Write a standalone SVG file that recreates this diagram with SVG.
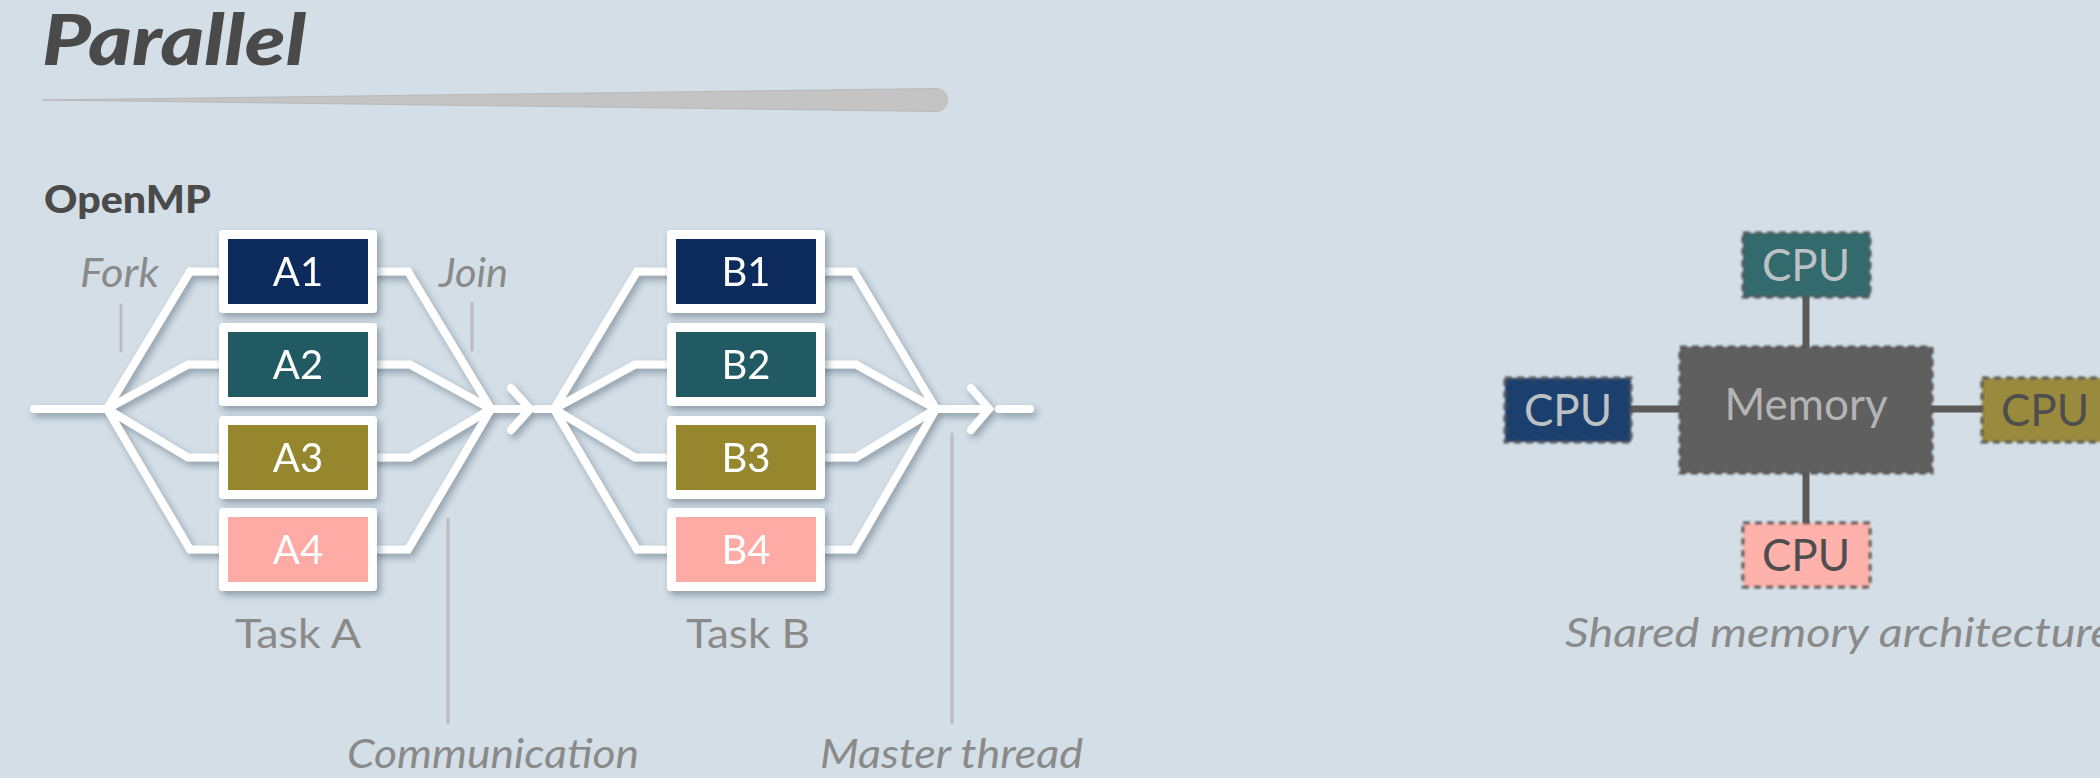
<svg xmlns="http://www.w3.org/2000/svg" width="2100" height="778" viewBox="0 0 2100 778">
  <defs>
    <filter id="shadow" x="-20%" y="-20%" width="140%" height="150%">
      <feDropShadow dx="3" dy="4" stdDeviation="3.5" flood-color="#2a3848" flood-opacity="0.4"/>
    </filter>
    <filter id="soft" x="-10%" y="-10%" width="120%" height="120%">
      <feGaussianBlur stdDeviation="0.9"/>
    </filter>
    <style>
      .bg { fill: #d3dee6; }
      .title { font-family: Lato, "Liberation Sans", sans-serif; font-weight: 900; font-style: italic; fill: #4a4a4a; }
      .sub { font-family: Lato, "Liberation Sans", sans-serif; font-weight: 900; font-size: 38px; fill: #4a4a4a; }
      .note { font-family: Lato, "Liberation Sans", sans-serif; font-style: italic; font-size: 40px; fill: #8a8a8a; }
      .cap { font-family: Lato, "Liberation Sans", sans-serif; font-size: 40px; fill: #8a8a8a; text-anchor: middle; }
      .tick { stroke: #bcbcbc; stroke-width: 3; stroke-linecap: round; fill: none; }
      .flow { stroke: #ffffff; stroke-width: 8; stroke-linecap: round; stroke-linejoin: miter; fill: none; }
      .frame { fill: #ffffff; }
      .lbl { font-family: Lato, "Liberation Sans", sans-serif; font-size: 40px; fill: #ffffff; text-anchor: middle; }
      .c1 { fill: #0c2c5c; }
      .c2 { fill: #225a63; }
      .c3 { fill: #96862f; }
      .c4 { fill: #ffaba5; }
      .bus { stroke: #5a5a5a; stroke-width: 7; fill: none; }
      .unit { stroke: #555555; stroke-width: 3; stroke-dasharray: 7 5; }
      .ulbl { font-family: Lato, "Liberation Sans", sans-serif; font-size: 44px; text-anchor: middle; }
    </style>
  </defs>

  <rect class="bg" x="0" y="0" width="2100" height="778"/>

  <!-- heading -->
  <g id="heading">
    <text class="title" x="42" y="65" font-size="70" textLength="264" lengthAdjust="spacingAndGlyphs">Parallel</text>
    <path d="M42 100 L936 88.5 A11.5 11.5 0 0 1 936 111.5 Z" fill="#c4c4c4" stroke="#b4b4b4" stroke-width="0.8"/>
    <text class="sub" x="44" y="213" textLength="167" lengthAdjust="spacingAndGlyphs">OpenMP</text>
  </g>

  <!-- thread flow lines -->
  <g id="connectors" filter="url(#shadow)">
    <!-- task A fork / join -->
    <path class="flow" d="M34 409 L107 409"/>
    <path class="flow" d="M107 409 L190 271.5 L225 271.5 M107 409 L188 364.5 L225 364.5 M107 409 L188 457.5 L225 457.5 M107 409 L190 549.5 L225 549.5"/>
    <path class="flow" d="M372 271.5 L408 271.5 L491 409 M372 364.5 L410 364.5 L491 409 M372 457.5 L410 457.5 L491 409 M372 549.5 L408 549.5 L491 409"/>
    <path class="flow" d="M491 409 L529 409 M511 388 L530 409 L511 430"/>
    <!-- task B fork / join -->
    <path class="flow" d="M536 409 L554 409"/>
    <path class="flow" d="M554 409 L637 271.5 L672 271.5 M554 409 L635 364.5 L672 364.5 M554 409 L635 457.5 L672 457.5 M554 409 L637 549.5 L672 549.5"/>
    <path class="flow" d="M819 271.5 L854 271.5 L936 409 M819 364.5 L856 364.5 L936 409 M819 457.5 L856 457.5 L936 409 M819 549.5 L854 549.5 L936 409"/>
    <path class="flow" d="M936 409 L988 409 M971 388 L989 409 L971 430"/>
    <path class="flow" d="M999 409 L1030 409"/>
  </g>

  <!-- task A -->
  <g id="A1" filter="url(#shadow)">
    <rect class="frame" x="219" y="230" width="158" height="83" rx="4"/>
    <rect class="c1" x="228" y="239" width="140" height="65"/>
    <text class="lbl" x="298" y="286">A1</text>
  </g>
  <g id="A2" filter="url(#shadow)">
    <rect class="frame" x="219" y="323" width="158" height="83" rx="4"/>
    <rect class="c2" x="228" y="332" width="140" height="65"/>
    <text class="lbl" x="298" y="379">A2</text>
  </g>
  <g id="A3" filter="url(#shadow)">
    <rect class="frame" x="219" y="416" width="158" height="83" rx="4"/>
    <rect class="c3" x="228" y="425" width="140" height="65"/>
    <text class="lbl" x="298" y="472">A3</text>
  </g>
  <g id="A4" filter="url(#shadow)">
    <rect class="frame" x="219" y="508" width="158" height="83" rx="4"/>
    <rect class="c4" x="228" y="517" width="140" height="65"/>
    <text class="lbl" x="298" y="564">A4</text>
  </g>

  <!-- task B -->
  <g id="B1" filter="url(#shadow)">
    <rect class="frame" x="667" y="230" width="158" height="83" rx="4"/>
    <rect class="c1" x="676" y="239" width="140" height="65"/>
    <text class="lbl" x="746" y="286">B1</text>
  </g>
  <g id="B2" filter="url(#shadow)">
    <rect class="frame" x="667" y="323" width="158" height="83" rx="4"/>
    <rect class="c2" x="676" y="332" width="140" height="65"/>
    <text class="lbl" x="746" y="379">B2</text>
  </g>
  <g id="B3" filter="url(#shadow)">
    <rect class="frame" x="667" y="416" width="158" height="83" rx="4"/>
    <rect class="c3" x="676" y="425" width="140" height="65"/>
    <text class="lbl" x="746" y="472">B3</text>
  </g>
  <g id="B4" filter="url(#shadow)">
    <rect class="frame" x="667" y="508" width="158" height="83" rx="4"/>
    <rect class="c4" x="676" y="517" width="140" height="65"/>
    <text class="lbl" x="746" y="564">B4</text>
  </g>

  <!-- annotations -->
  <g id="annotations">
    <text class="note" x="80" y="287" textLength="79" lengthAdjust="spacingAndGlyphs">Fork</text>
    <line class="tick" x1="121" y1="305" x2="121" y2="351"/>
    <text class="note" x="439" y="287" textLength="69" lengthAdjust="spacingAndGlyphs">Join</text>
    <line class="tick" x1="472" y1="303" x2="472" y2="350"/>
    <text class="cap" x="298" y="648" textLength="126" lengthAdjust="spacingAndGlyphs">Task A</text>
    <text class="cap" x="748" y="648" textLength="124" lengthAdjust="spacingAndGlyphs">Task B</text>
    <line class="tick" x1="448" y1="519" x2="448" y2="723"/>
    <text class="note" x="347" y="768" textLength="292" lengthAdjust="spacingAndGlyphs">Communication</text>
    <line class="tick" x1="952" y1="434" x2="952" y2="723"/>
    <text class="note" x="820" y="768" textLength="263" lengthAdjust="spacingAndGlyphs">Master thread</text>
  </g>

  <!-- shared memory buses -->
  <g id="buses">
    <line class="bus" x1="1806" y1="296" x2="1806" y2="348"/>
    <line class="bus" x1="1806" y1="472" x2="1806" y2="524"/>
    <line class="bus" x1="1630" y1="409" x2="1681" y2="409"/>
    <line class="bus" x1="1931" y1="409" x2="1983" y2="409"/>
  </g>

  <g id="memory">
    <rect class="unit" x="1680" y="347" width="252" height="126" fill="#5e5e5e" filter="url(#soft)"/>
    <text class="ulbl" x="1806" y="420" fill="#b4b4b4" font-size="40">Memory</text>
  </g>
  <g id="cpu-top">
    <rect class="unit" x="1743" y="233" width="127" height="64" fill="#326a6d" filter="url(#soft)"/>
    <text class="ulbl" x="1806" y="281" fill="#bcc2c4">CPU</text>
  </g>
  <g id="cpu-left">
    <rect class="unit" x="1505" y="378" width="126" height="64" fill="#1f3f6d" filter="url(#soft)"/>
    <text class="ulbl" x="1568" y="426" fill="#bcc2c4">CPU</text>
  </g>
  <g id="cpu-right">
    <rect class="unit" x="1982" y="378" width="127" height="64" fill="#9a8a3d" filter="url(#soft)"/>
    <text class="ulbl" x="2045" y="426" fill="#4e4e4e">CPU</text>
  </g>
  <g id="cpu-bottom">
    <rect class="unit" x="1743" y="523" width="127" height="64" fill="#ffb2ac" filter="url(#soft)"/>
    <text class="ulbl" x="1806" y="571" fill="#4e4e4e">CPU</text>
  </g>
  <text class="note" x="1565" y="647" textLength="548" lengthAdjust="spacingAndGlyphs">Shared memory architecture</text>
</svg>
